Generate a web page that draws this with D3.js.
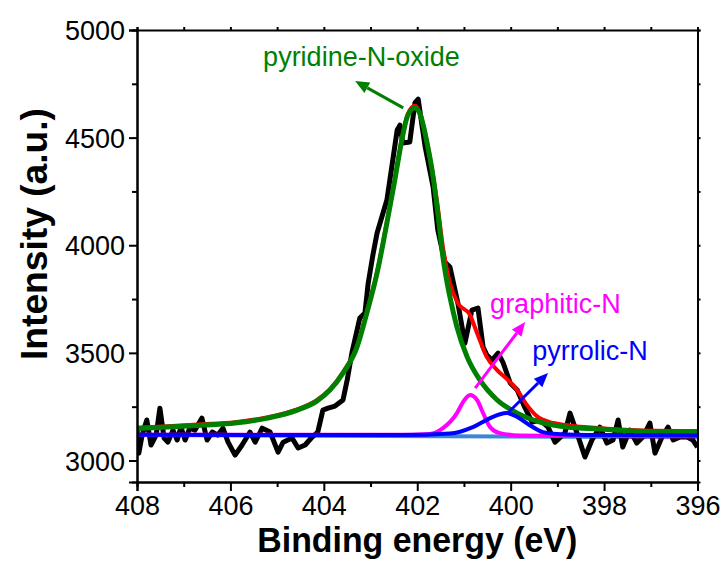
<!DOCTYPE html>
<html>
<head>
<meta charset="utf-8">
<script src="https://cdn.jsdelivr.net/npm/d3@7"></script>
<style>
  html, body { margin: 0; padding: 0; background: #fff; }
  svg { display: block; font-family: Arial, "Liberation Sans", sans-serif; }
</style>
</head>
<body>
<svg id="chart" width="727" height="563"></svg>
<script>
// N 1s spectrum: binding energy (eV) and measured intensity (a.u.)
const rawEnergy = [408.00, 407.96, 407.89, 407.79, 407.70, 407.59, 407.51, 407.42, 407.34, 407.23,
  407.14, 407.06, 406.97, 406.87, 406.76, 406.61, 406.50, 406.39, 406.27, 406.16,
  406.05, 405.90, 405.75, 405.58, 405.47, 405.32, 405.15, 404.98, 404.87, 404.68,
  404.55, 404.40, 404.25, 404.13, 404.02, 403.91, 403.76, 403.59, 403.50, 403.40,
  403.23, 403.12, 403.05, 402.95, 402.86, 402.65, 402.43, 402.37, 402.31, 402.16,
  402.05, 401.98, 401.90, 401.83, 401.66, 401.56, 401.41, 401.30, 401.13, 400.98,
  400.83, 400.70, 400.59, 400.51, 400.40, 400.27, 400.16, 400.01, 399.86, 399.69,
  399.54, 399.37, 399.20, 399.05, 398.84, 398.73, 398.58, 398.41, 398.26, 398.09,
  397.94, 397.81, 397.70, 397.60, 397.45, 397.30, 397.17, 397.02, 396.91, 396.76,
  396.63, 396.52, 396.37, 396.22, 396.10, 396.00];
const rawIntensity = [3150, 3034, 3118, 3188, 3072, 3118, 3243, 3104, 3085, 3141,
  3095, 3155, 3095, 3150, 3141, 3197, 3095, 3132, 3118, 3150,
  3085, 3025, 3072, 3132, 3085, 3150, 3132, 3039, 3085, 3104,
  3058, 3072, 3109, 3132, 3234, 3243, 3253, 3281, 3374, 3499,
  3662, 3685, 3824, 3954, 4057, 4210, 4535, 4558, 4475, 4480,
  4661, 4679, 4559, 4456, 4270, 4071, 3922, 3899, 3731, 3545,
  3699, 3708, 3527, 3490, 3466, 3499, 3453, 3360, 3327, 3243,
  3178, 3188, 3155, 3085, 3127, 3220, 3127, 3016, 3095, 3155,
  3081, 3095, 3188, 3062, 3141, 3081, 3109, 3174, 3034, 3109,
  3155, 3095, 3109, 3109, 3095, 3062];

// Fitted envelope (sum of components)
const envelopeEnergy = [408.00, 407.34, 406.61, 405.90, 405.20, 404.57, 404.15, 403.87, 403.59, 403.29,
  403.08, 402.86, 402.65, 402.48, 402.33, 402.20, 402.05, 401.90, 401.73, 401.58,
  401.45, 401.30, 401.13, 400.87, 400.72, 400.51, 400.29, 400.08, 399.86, 399.65,
  399.44, 399.09, 398.79, 398.09, 397.30, 396.00];
const envelopeIntensity = [3152, 3159, 3168, 3178, 3201, 3238, 3280, 3331, 3410, 3531,
  3690, 3876, 4108, 4308, 4494, 4611, 4648, 4582, 4410, 4210,
  3992, 3824, 3731, 3676, 3592, 3480, 3420, 3378, 3327, 3257,
  3206, 3174, 3164, 3150, 3141, 3137];

// Component: pyridine-N-oxide
const oxideEnergy = [408.00, 407.34, 406.61, 405.90, 405.20, 404.57, 404.15, 403.87, 403.59, 403.29,
  403.08, 402.86, 402.65, 402.48, 402.33, 402.20, 402.05, 401.94, 401.79, 401.66,
  401.56, 401.45, 401.30, 401.15, 400.93, 400.66, 400.29, 399.86, 399.37, 398.79,
  398.09, 397.38, 396.00];
const oxideIntensity = [3148, 3155, 3164, 3174, 3197, 3234, 3276, 3327, 3406, 3527,
  3685, 3871, 4103, 4303, 4489, 4605, 4638, 4610, 4475, 4317,
  4150, 3945, 3759, 3620, 3480, 3374, 3281, 3220, 3178, 3155,
  3146, 3137, 3132];

// Component: graphitic-N
const graphiticEnergy = [408.00, 402.50, 401.73, 401.45, 401.15, 401.02, 400.87, 400.72, 400.59, 400.44,
  400.23, 399.80, 398.50, 396.00];
const graphiticIntensity = [3119, 3119, 3123, 3150, 3220, 3271, 3304, 3281, 3220, 3155,
  3127, 3116, 3114, 3112];

// Component: pyrrolic-N
const pyrrolicEnergy = [408.00, 402.37, 401.30, 400.81, 400.44, 400.23, 400.08, 399.86, 399.59, 399.31,
  399.01, 398.09, 396.00];
const pyrrolicIntensity = [3119, 3118, 3125, 3155, 3197, 3215, 3220, 3202, 3164, 3132,
  3123, 3118, 3116];

// Linear background
const backgroundEnergy = [408.00, 396.00];
const backgroundIntensity = [3118, 3108];

// Axis ticks
const xMajorTicks = [408, 406, 404, 402, 400, 398, 396];
const xMinorTicks = [407, 405, 403, 401, 399, 397];
const yMajorTicks = [3000, 3500, 4000, 4500, 5000];
const yMinorTicks = [3250, 3750, 4250, 4750];
const yMirrorTicks = [3000, 3250, 3500, 3750, 4000, 4250, 4500, 4750, 5000];

// Peak labels and arrows (anchored in data units)
const labelText = ["pyridine-N-oxide", "graphitic-N", "pyrrolic-N"];
const labelEnergy = [405.30, 400.44, 399.54];
const labelIntensity = [4833, 3685, 3467];
const arrowFrom = [[402.30, 4638], [400.76, 3336], [400.04, 3225]];
const arrowTo = [[403.33, 4763], [399.69, 3643], [399.20, 3406]];
const labelColor = ["#008000", "#ff00ff", "#0000ff"];

const svg = d3.select("#chart");
const margin = { left: 137, right: 29.5, top: 30, bottom: 81 };
const W = 727, H = 563;
const x = d3.scaleLinear().domain([408, 396]).range([margin.left, W - margin.right]);
const y = d3.scaleLinear().domain([2900, 5000]).range([H - margin.bottom, margin.top]);

const zip = (a, b) => a.map((v, i) => [v, b[i]]);
const line = d3.line().x(d => x(d[0])).y(d => y(d[1]));
const smooth = d3.line().x(d => x(d[0])).y(d => y(d[1])).curve(d3.curveMonotoneX);

const plot = svg.append("g");
plot.append("clipPath").attr("id", "clip").append("rect")
  .attr("x", x(408)).attr("y", y(5000)).attr("width", x(396) - x(408)).attr("height", y(2900) - y(5000));
const g = plot.append("g").attr("clip-path", "url(#clip)");

g.append("path").datum(zip(backgroundEnergy, backgroundIntensity))
  .attr("d", line).attr("fill", "none").attr("stroke", "#3a86d8").attr("stroke-width", 4);
g.append("path").datum(zip(rawEnergy, rawIntensity))
  .attr("d", line).attr("fill", "none").attr("stroke", "#000").attr("stroke-width", 5)
  .attr("stroke-linejoin", "round");
g.append("path").datum(zip(envelopeEnergy, envelopeIntensity))
  .attr("d", smooth).attr("fill", "none").attr("stroke", "#ff0000").attr("stroke-width", 4);
g.append("path").datum(zip(oxideEnergy, oxideIntensity))
  .attr("d", smooth).attr("fill", "none").attr("stroke", "#008000").attr("stroke-width", 5);
g.append("path").datum(zip(graphiticEnergy, graphiticIntensity))
  .attr("d", smooth).attr("fill", "none").attr("stroke", "#ff00ff").attr("stroke-width", 4);
g.append("path").datum(zip(pyrrolicEnergy, pyrrolicIntensity))
  .attr("d", smooth).attr("fill", "none").attr("stroke", "#0000ff").attr("stroke-width", 4);

// Axes
const axisG = svg.append("g");
const bottom = axisG.append("g").attr("transform", `translate(0,${y(2900)})`)
  .call(d3.axisBottom(x).tickValues(xMajorTicks).tickSize(9).tickPadding(4).tickFormat(d3.format("d")));
axisG.append("g").attr("transform", `translate(0,${y(2900)})`)
  .call(d3.axisBottom(x).tickValues(xMinorTicks).tickSize(5).tickFormat(""));
const left = axisG.append("g").attr("transform", `translate(${x(408)},0)`)
  .call(d3.axisLeft(y).tickValues(yMajorTicks).tickSize(8).tickPadding(4).tickFormat(d3.format("d")));
axisG.append("g").attr("transform", `translate(${x(408)},0)`)
  .call(d3.axisLeft(y).tickValues(yMinorTicks).tickSize(5).tickFormat(""));
axisG.append("g").attr("transform", `translate(0,${y(5000)})`)
  .call(d3.axisTop(x).tickValues(xMajorTicks.concat(xMinorTicks)).tickSize(3).tickFormat(""));
axisG.append("g").attr("transform", `translate(${x(396)},0)`)
  .call(d3.axisRight(y).tickValues(yMirrorTicks).tickSize(3).tickFormat(""));

axisG.selectAll(".domain").attr("stroke", "#000").attr("stroke-width", 2);
axisG.selectAll(".tick line").attr("stroke", "#000").attr("stroke-width", 2);
axisG.selectAll(".tick text").attr("fill", "#000").attr("font-size", 27)
  .attr("font-family", "Arial, 'Liberation Sans', sans-serif");
bottom.selectAll(".tick text").attr("dy", "0.75em");
left.selectAll(".tick text").attr("dy", "0.36em");

// Axis titles
svg.append("text").attr("x", (x(408) + x(396)) / 2 - 0).attr("y", 552)
  .attr("text-anchor", "middle").attr("font-size", 35).attr("font-weight", "bold")
  .attr("textLength", 320).attr("lengthAdjust", "spacingAndGlyphs")
  .text("Binding energy (eV)");
svg.append("text").attr("transform", `translate(47,${(y(5000) + y(2900)) / 2 - 22}) rotate(-90)`)
  .attr("text-anchor", "middle").attr("font-size", 36).attr("font-weight", "bold")
  .attr("textLength", 252).attr("lengthAdjust", "spacingAndGlyphs")
  .text("Intensity (a.u.)");

// Peak annotations
labelText.forEach((t, i) => {
  svg.append("text").attr("x", x(labelEnergy[i])).attr("y", y(labelIntensity[i]))
    .attr("fill", labelColor[i]).attr("font-size", 27).text(t);
  const [x0, y0] = [x(arrowFrom[i][0]), y(arrowFrom[i][1])];
  const [x1, y1] = [x(arrowTo[i][0]), y(arrowTo[i][1])];
  const ang = Math.atan2(y1 - y0, x1 - x0);
  const headLen = 14, headW = 6;
  const bx = x1 - headLen * Math.cos(ang), by = y1 - headLen * Math.sin(ang);
  svg.append("line").attr("x1", x0).attr("y1", y0).attr("x2", bx).attr("y2", by)
    .attr("stroke", labelColor[i]).attr("stroke-width", 3);
  const px = -Math.sin(ang), py = Math.cos(ang);
  svg.append("path")
    .attr("d", `M${x1},${y1}L${bx + px * headW},${by + py * headW}L${bx - px * headW},${by - py * headW}Z`)
    .attr("fill", labelColor[i]);
});
</script>
</body>
</html>
